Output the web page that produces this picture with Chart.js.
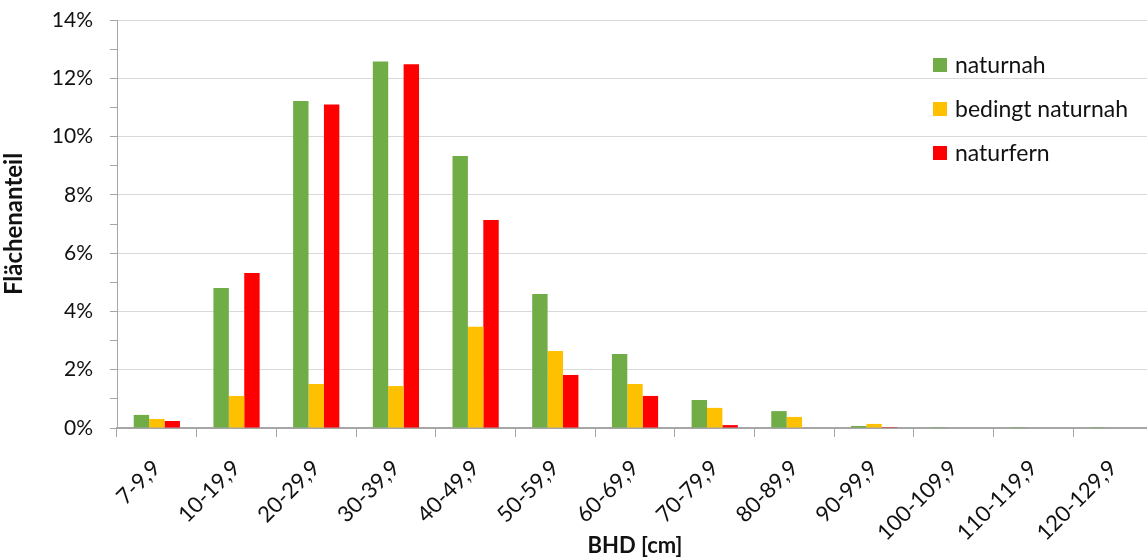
<!DOCTYPE html>
<html>
<head>
<meta charset="utf-8">
<script src="https://cdn.jsdelivr.net/npm/chart.js@4/dist/chart.umd.min.js"></script>
<style>
  html, body { margin: 0; padding: 0; background: #fff; overflow: hidden; }
  #wrap { width: 1153px; height: 560px; }
</style>
</head>
<body>
<div id="wrap"><canvas id="c" width="1153" height="560"></canvas></div>
<script>
const categories = ["7-9,9","10-19,9","20-29,9","30-39,9","40-49,9","50-59,9","60-69,9","70-79,9","80-89,9","90-99,9","100-109,9","110-119,9","120-129,9"];
const seriesNames = ["naturnah","bedingt naturnah","naturfern"];
const naturnah        = [0.45, 4.80, 11.22, 12.58, 9.33, 4.60, 2.54, 0.96, 0.58, 0.07, 0.03, 0.03, 0.03];
const bedingtNaturnah = [0.31, 1.10, 1.51, 1.44, 3.47, 2.64, 1.51, 0.69, 0.38, 0.14, 0.00, 0.00, 0.00];
const naturfern       = [0.24, 5.32, 11.10, 12.48, 7.14, 1.82, 1.10, 0.10, 0.00, 0.03, 0.00, 0.00, 0.00];
const colors = ["#70ad47", "#ffc000", "#ff0000"];

const FONT = "Lato, 'Open Sans', sans-serif";
const TXT = "#111111";

const legendPlugin = {
  id: 'insideLegend',
  afterDatasetsDraw(chart) {
    const ctx = chart.ctx;
    ctx.save();
    ctx.font = "23px " + FONT;
    ctx.textBaseline = "middle";
    const x0 = 933, y0 = 65, dy = 44;
    chart.data.datasets.forEach((ds, i) => {
      const y = y0 + i * dy;
      ctx.fillStyle = ds.backgroundColor;
      ctx.fillRect(x0, y - 7, 14, 14);
      ctx.fillStyle = TXT;
      ctx.fillText(ds.label, x0 + 22, y + 1);
    });
    ctx.restore();
  }
};

new Chart(document.getElementById('c'), {
  type: 'bar',
  data: {
    labels: categories,
    datasets: [
      { label: seriesNames[0], data: naturnah, backgroundColor: colors[0] },
      { label: seriesNames[1], data: bedingtNaturnah, backgroundColor: colors[1] },
      { label: seriesNames[2], data: naturfern, backgroundColor: colors[2] }
    ]
  },
  options: {
    responsive: false,
    animation: false,
    devicePixelRatio: 1,
    layout: { padding: { top: 20, left: 0, right: 0, bottom: 0 } },
    datasets: { bar: { categoryPercentage: 0.58, barPercentage: 1.0 } },
    plugins: { legend: { display: false }, tooltip: { enabled: false } },
    scales: {
      x: {
        grid: { display: true, drawOnChartArea: false, drawTicks: true, tickLength: 9, color: '#a6a6a6', offset: true },
        border: { color: '#a6a6a6', width: 2 },
        ticks: { color: TXT, font: { family: FONT, size: 22 }, minRotation: 45, maxRotation: 45, autoSkip: false, padding: 18 },
        title: { display: true, text: 'BHD [cm]', color: TXT, font: { family: FONT, size: 22, weight: 'bold' }, padding: { top: 0, bottom: 1 } },
        afterFit(scale) { scale.height = 132; scale.paddingLeft = 0; scale.paddingRight = 0; }
      },
      y: {
        min: 0, max: 14,
        grid: {
          drawTicks: true, tickLength: 7,
          color: (c) => (c.tick && c.tick.value % 2 === 0) ? '#d9d9d9' : 'rgba(0,0,0,0)',
          tickColor: '#a6a6a6'
        },
        border: { color: '#a6a6a6', width: 1 },
        ticks: {
          stepSize: 1, autoSkip: false, padding: 17, color: TXT,
          font: { family: FONT, size: 21 },
          callback: (v) => (v % 2 === 0) ? v + '%' : ''
        },
        title: { display: true, text: 'Flächenanteil', color: TXT, font: { family: FONT, size: 24, weight: 'bold' }, padding: { top: 0, bottom: 0 } },
        afterFit(scale) { scale.width = 117; scale.paddingTop = 0; scale.paddingBottom = 0; }
      }
    }
  },
  plugins: [legendPlugin]
});
</script>
</body>
</html>
